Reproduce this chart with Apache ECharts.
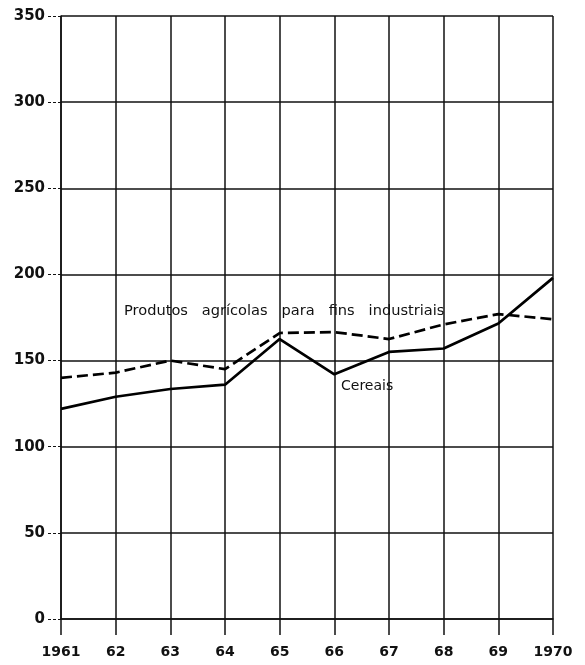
<!DOCTYPE html>
<html>
<head>
<meta charset="utf-8">
<script src="https://cdn.jsdelivr.net/npm/echarts@6/dist/echarts.min.js"></script>
<style>
html,body{margin:0;padding:0;background:#fff;}
#c{width:585px;height:665px;}
</style>
</head>
<body>
<div id="c"></div>
<script>
var years = ['1961','62','63','64','65','66','67','68','69','1970'];
var cereais = [122, 129, 133.5, 136, 162.5, 142, 155, 157, 171.5, 198];
var industriais = [140, 143, 150, 145, 166, 166.5, 162.5, 171, 177, 174];
var yTicks = [0, 50, 100, 150, 200, 250, 300, 350];

var chart = echarts.init(document.getElementById('c'), null, {renderer: 'canvas'});
var fontFam = '"DejaVu Sans", "Liberation Sans", sans-serif';
chart.setOption({
  animation: false,
  backgroundColor: '#ffffff',
  grid: {left: 61, right: 32, top: 16, bottom: 46, containLabel: false},
  xAxis: {
    type: 'category',
    data: years,
    boundaryGap: false,
    axisLine: {show: true, lineStyle: {color: '#111', width: 1.5}},
    axisTick: {show: true, length: 16, alignWithLabel: true, lineStyle: {color: '#111', width: 1.5}},
    axisLabel: {color: '#111', fontFamily: fontFam, fontSize: 14, fontWeight: 'bold', margin: 26},
    splitLine: {show: true, lineStyle: {color: '#111', width: 1.5}}
  },
  yAxis: {
    type: 'value',
    min: yTicks[0],
    max: yTicks[yTicks.length - 1],
    interval: 50,
    axisLine: {show: true, lineStyle: {color: '#111', width: 1.5}},
    axisTick: {show: true, length: 14, lineStyle: {color: '#111', width: 1, type: [3, 2]}},
    axisLabel: {color: '#111', fontFamily: fontFam, fontSize: 15, fontWeight: 'bold', margin: 16},
    splitLine: {show: true, lineStyle: {color: '#111', width: 1.5}}
  },
  series: [
    {
      name: 'Cereais',
      type: 'line',
      data: cereais,
      symbol: 'none',
      lineStyle: {color: '#000', width: 2.7},
      z: 5
    },
    {
      name: 'Produtos agrícolas para fins industriais',
      type: 'line',
      data: industriais,
      symbol: 'none',
      lineStyle: {color: '#000', width: 2.7, type: [11, 5]},
      z: 5
    }
  ],
  graphic: [
    {
      type: 'text',
      left: 124, top: 304,
      style: {
        text: 'Produtos   agrícolas   para   fins   industriais',
        fill: '#111',
        font: '14.6px ' + fontFam
      },
      z: 10
    },
    {
      type: 'text',
      left: 341, top: 379,
      style: {
        text: 'Cereais',
        fill: '#111',
        font: '14px ' + fontFam
      },
      z: 10
    }
  ]
});
</script>
</body>
</html>
